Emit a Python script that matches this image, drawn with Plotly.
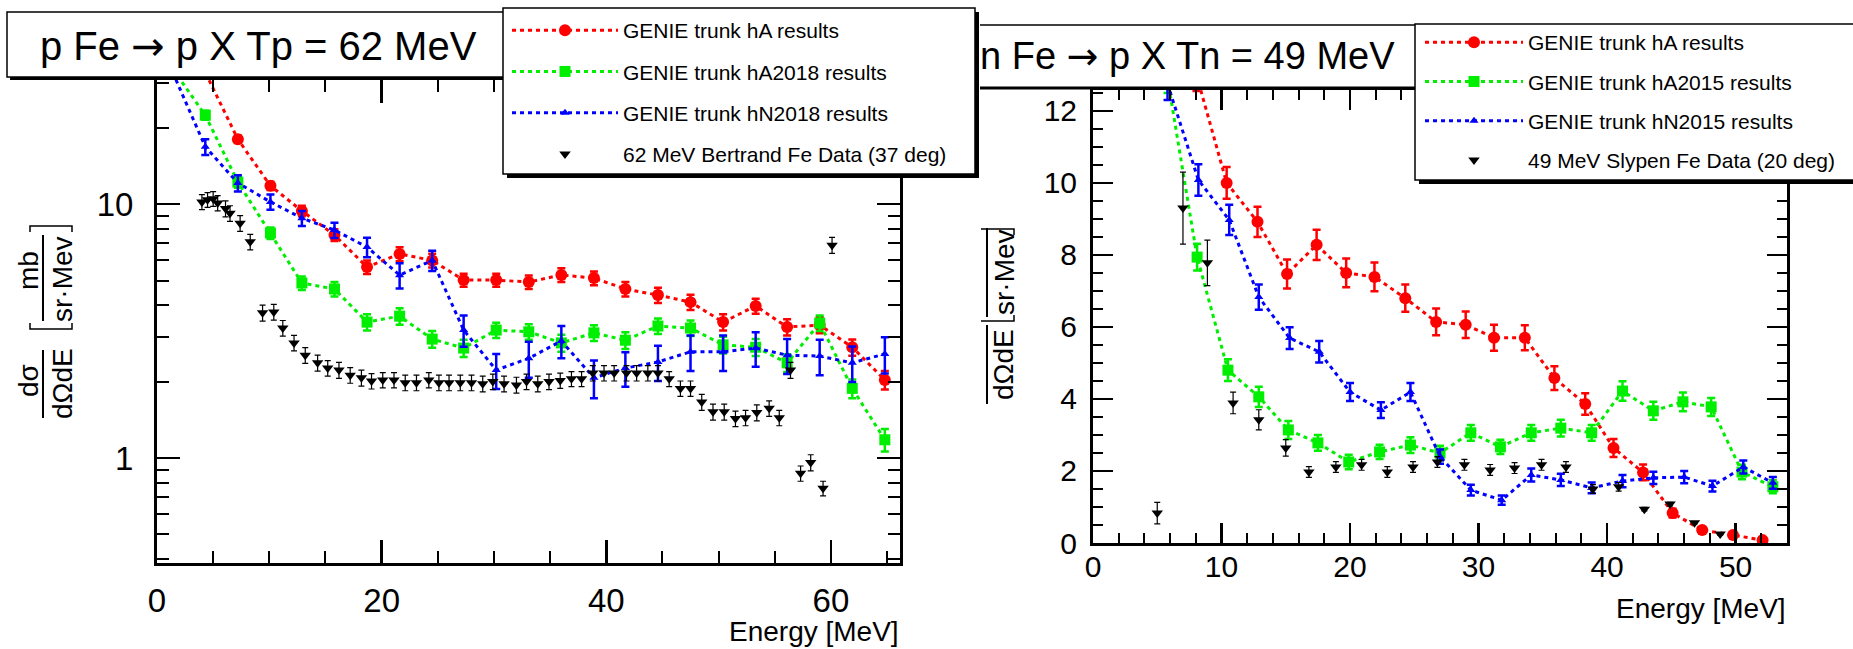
import plotly.graph_objects as go
import math

W, H = 1853, 649
def px(x):
    return x / W
def py(y):
    return 1 - y / H

FONT = "Liberation Sans, Arial, Helvetica, sans-serif"

# ---------------- Left panel: p Fe -> p X, Tp = 62 MeV ----------------
E_model_L = [1.4, 4.3, 7.2, 10.1, 12.9, 15.8, 18.7, 21.6, 24.5, 27.3, 30.2, 33.1,
             36.0, 38.9, 41.7, 44.6, 47.5, 50.4, 53.3, 56.1, 59.0, 61.9, 64.8]
hA_L = [45, 33, 18.0, 11.8, 9.4, 7.55, 5.65, 6.36, 6.0, 5.02, 5.02, 4.93,
        5.26, 5.11, 4.63, 4.38, 4.11, 3.43, 3.97, 3.28, 3.34, 2.73, 2.03]
hA_L_err = [0, 0.8, 0.6, 0.45, 0.45, 0.4, 0.35, 0.4, 0.38, 0.3, 0.3, 0.3,
            0.33, 0.32, 0.3, 0.3, 0.28, 0.25, 0.27, 0.24, 0.24, 0.2, 0.17]
hA2018_L = [34, 22.4, 12.2, 7.69, 4.89, 4.63, 3.43, 3.62, 2.94, 2.71, 3.19, 3.14,
            2.84, 3.11, 2.91, 3.31, 3.25, 2.79, 2.73, 2.37, 3.40, 1.88, 1.18]
hA2018_L_err = [0, 0.9, 0.6, 0.4, 0.3, 0.3, 0.25, 0.27, 0.22, 0.21, 0.22, 0.22,
                0.22, 0.22, 0.22, 0.23, 0.23, 0.21, 0.21, 0.19, 0.24, 0.16, 0.12]
hN2018_L = [33, 16.8, 12.1, 10.2, 8.8, 7.9, 6.77, 5.25, 6.0, 3.19, 2.22, 2.47,
            2.89, 2.07, 2.26, 2.39, 2.62, 2.62, 2.71, 2.54, 2.52, 2.37, 2.57]
hN2018_L_err = [0, 1.2, 0.9, 0.7, 0.6, 0.55, 0.6, 0.6, 0.55, 0.45, 0.35, 0.4,
                0.42, 0.35, 0.35, 0.38, 0.42, 0.42, 0.42, 0.4, 0.4, 0.38, 0.42]

E_data_L = [4.0, 4.5, 5.0, 5.4, 6.1, 6.5, 7.4, 8.3, 9.4, 10.4, 11.2, 12.2, 13.2,
            14.3, 15.2, 16.2, 17.2, 18.2, 19.1, 20.1, 21.1, 22.1, 23.1, 24.2,
            25.1, 26.0, 27.0, 28.0, 29.0, 29.9, 30.9, 32.0, 32.9, 33.9, 34.9,
            35.9, 36.9, 37.8, 38.8, 39.8, 40.7, 41.8, 42.7, 43.7, 44.6, 45.6,
            46.6, 47.5, 48.5, 49.5, 50.5, 51.5, 52.4, 53.4, 54.5, 55.4, 56.4,
            57.3, 58.2, 59.3, 60.1]
data_L = [10.2, 10.4, 10.5, 10.1, 9.6, 9.2, 8.4, 7.1, 3.73, 3.76, 3.25, 2.84, 2.54,
          2.37, 2.26, 2.22, 2.12, 2.07, 2.01, 2.03, 2.03, 1.98, 1.98, 2.03,
          1.98, 1.98, 1.98, 1.98, 1.96, 2.0, 1.96, 1.94, 2.0, 1.96, 2.0,
          2.02, 2.05, 2.05, 2.16, 2.16, 2.16, 2.16, 2.16, 2.16, 2.16, 2.05,
          1.88, 1.88, 1.66, 1.52, 1.52, 1.43, 1.44, 1.51, 1.57, 1.44, 2.22,
          0.87, 0.96, 0.76, 6.89]
data_L_err = [0.7, 0.7, 0.7, 0.7, 0.7, 0.65, 0.6, 0.5, 0.27, 0.27, 0.23, 0.2, 0.18,
              0.17, 0.16, 0.16, 0.15, 0.15, 0.14, 0.14, 0.14, 0.14, 0.14, 0.14,
              0.14, 0.14, 0.14, 0.14, 0.14, 0.14, 0.14, 0.14, 0.14, 0.14, 0.14,
              0.14, 0.14, 0.14, 0.15, 0.15, 0.15, 0.15, 0.15, 0.15, 0.15, 0.14,
              0.13, 0.13, 0.12, 0.11, 0.11, 0.1, 0.1, 0.11, 0.11, 0.1, 0.16,
              0.06, 0.07, 0.05, 0.5]

# ---------------- Right panel: n Fe -> p X, Tn = 49 MeV ----------------
E_hA_R = [8.05, 10.4, 12.8, 15.1, 17.4, 19.7, 21.9, 24.3, 26.7, 29.0, 31.2, 33.6,
          35.9, 38.3, 40.5, 42.8, 45.1, 47.4, 49.8, 52.1]
hA_R = [13.0, 10.0, 8.92, 7.47, 8.28, 7.5, 7.39, 6.8, 6.14, 6.06, 5.7, 5.7,
        4.58, 3.86, 2.64, 1.96, 0.83, 0.36, 0.22, 0.08]
hA_R_err = [0.45, 0.44, 0.42, 0.4, 0.42, 0.4, 0.4, 0.38, 0.37, 0.37, 0.36, 0.35,
            0.33, 0.3, 0.25, 0.22, 0.12, 0.08, 0.06, 0.03]

E_hA2015_R = [5.8, 8.1, 10.5, 12.9, 15.2, 17.5, 19.9, 22.3, 24.7, 27.0, 29.4,
              31.7, 34.1, 36.4, 38.8, 41.2, 43.6, 45.9, 48.1, 50.5, 52.9]
hA2015_R = [12.9, 7.94, 4.8, 4.06, 3.14, 2.78, 2.25, 2.53, 2.72, 2.5, 3.06,
            2.67, 3.06, 3.19, 3.06, 4.22, 3.67, 3.92, 3.78, 1.97, 1.56]
hA2015_R_err = [0.4, 0.37, 0.3, 0.28, 0.25, 0.22, 0.2, 0.2, 0.22, 0.2, 0.22,
                0.2, 0.22, 0.23, 0.22, 0.27, 0.25, 0.26, 0.25, 0.2, 0.18]

E_hN2015_R = [5.8, 8.2, 10.6, 12.9, 15.3, 17.6, 20.0, 22.4, 24.7, 27.0, 29.4,
              31.8, 34.1, 36.4, 38.8, 41.2, 43.6, 46.0, 48.2, 50.6, 52.9]
hN2015_R = [12.75, 10.08, 8.97, 6.83, 5.69, 5.31, 4.19, 3.69, 4.19, 2.4, 1.47,
            1.19, 1.89, 1.75, 1.53, 1.72, 1.81, 1.83, 1.58, 2.11, 1.67]
hN2015_R_err = [0.45, 0.44, 0.42, 0.35, 0.3, 0.3, 0.25, 0.22, 0.25, 0.2, 0.15,
                0.13, 0.18, 0.17, 0.15, 0.17, 0.17, 0.17, 0.15, 0.18, 0.16]

E_data_R = [5.0, 7.0, 8.9, 10.9, 12.9, 15.0, 16.8, 18.9, 20.9, 22.9, 24.9, 26.8,
            28.9, 30.9, 32.8, 34.9, 36.8, 38.9, 40.9, 42.9, 44.9, 46.8, 48.8]
data_R = [0.83, 9.3, 7.78, 3.89, 3.42, 2.64, 1.97, 2.11, 2.17, 1.97, 2.11, 2.25,
          2.17, 2.03, 2.08, 2.17, 2.11, 1.5, 1.56, 0.94, 1.08, 0.56, 0.25]
data_R_err = [0.3, 1.0, 0.63, 0.3, 0.28, 0.23, 0.15, 0.15, 0.15, 0.15, 0.15, 0.15,
              0.15, 0.15, 0.15, 0.15, 0.15, 0.12, 0.12, 0.05, 0.05, 0.03, 0.03]

names_L = ["GENIE trunk hA results", "GENIE trunk hA2018 results",
           "GENIE trunk hN2018 results", "62 MeV Bertrand Fe Data (37 deg)"]
names_R = ["GENIE trunk hA results", "GENIE trunk hA2015 results",
           "GENIE trunk hN2015 results", "49 MeV Slypen Fe Data (20 deg)"]

RED, GREEN, BLUE = "#ff0000", "#00ee00", "#0000ff"

fig = go.Figure()


def model(E, v, err, color, symbol, size, name, xa, ya, leg, grp):
    return go.Scatter(
        x=E, y=v, mode="lines+markers", name=name, xaxis=xa, yaxis=ya,
        legend=leg, legendgroup=grp,
        line=dict(color=color, width=3, dash="4px,4px"),
        marker=dict(color=color, symbol=symbol, size=size, line=dict(width=0)),
        error_y=dict(type="data", array=err, color=color, thickness=2.5, width=4),
    )


def data(E, v, err, name, xa, ya, leg, grp):
    return go.Scatter(
        x=E, y=v, mode="markers", name=name, xaxis=xa, yaxis=ya,
        legend=leg, legendgroup=grp,
        marker=dict(color="black", symbol="triangle-down", size=10, line=dict(width=0)),
        error_y=dict(type="data", array=err, color="black", thickness=1.2, width=3),
    )


fig.add_trace(model(E_model_L, hA_L, hA_L_err, RED, "circle", 12, names_L[0], "x", "y", "legend", "l1"))
fig.add_trace(model(E_model_L, hA2018_L, hA2018_L_err, GREEN, "square", 11, names_L[1], "x", "y", "legend", "l2"))
fig.add_trace(model(E_model_L, hN2018_L, hN2018_L_err, BLUE, "triangle-up", 8, names_L[2], "x", "y", "legend", "l3"))
fig.add_trace(data(E_data_L, data_L, data_L_err, names_L[3], "x", "y", "legend", "l4"))

fig.add_trace(model(E_hA_R, hA_R, hA_R_err, RED, "circle", 12, names_R[0], "x2", "y2", "legend2", "r1"))
fig.add_trace(model(E_hA2015_R, hA2015_R, hA2015_R_err, GREEN, "square", 11, names_R[1], "x2", "y2", "legend2", "r2"))
fig.add_trace(model(E_hN2015_R, hN2015_R, hN2015_R_err, BLUE, "triangle-up", 8, names_R[2], "x2", "y2", "legend2", "r3"))
fig.add_trace(data(E_data_R, data_R, data_R_err, names_R[3], "x2", "y2", "legend2", "r4"))


def axis(domain, rng, dtick, minor_dtick, ticklen, minorlen, fsize, standoff, anchor, log=False):
    d = dict(
        domain=domain, range=rng, dtick=dtick, tick0=0, anchor=anchor,
        ticks="inside", ticklen=ticklen, tickwidth=2.5, tickcolor="black",
        minor=dict(dtick=minor_dtick, ticks="inside", ticklen=minorlen,
                   tickwidth=2, tickcolor="black", showgrid=False),
        showline=True, linewidth=3, linecolor="black", mirror="allticks",
        showgrid=False, zeroline=False, automargin=False,
        tickfont=dict(family=FONT, size=fsize, color="black"),
        ticklabelstandoff=standoff, fixedrange=True,
    )
    if log:
        d["type"] = "log"
        d.pop("tick0")
    return d


fig.update_layout(
    width=W, height=H, autosize=False,
    margin=dict(l=0, r=0, t=0, b=0, autoexpand=False),
    paper_bgcolor="white", plot_bgcolor="white",
    font=dict(family=FONT, color="black"),
    xaxis=axis([px(157), px(900)], [0, 66.15], 20, 5, 23, 12, 33, 6, "y"),
    yaxis=axis([py(563), py(80)], [math.log10(0.386), math.log10(30.8)], 1, "D1",
               23, 12, 33, 14, "x", log=True),
    xaxis2=axis([px(1093), px(1787)], [0, 54], 10, 2, 20, 10, 30, -5, "y2"),
    yaxis2=axis([py(543), py(90)], [0, 12.58], 2, 0.5, 20, 10, 30, 7, "x2"),
    legend=dict(x=px(507), y=py(10), xanchor="left", yanchor="top",
                bgcolor="rgba(0,0,0,0)", borderwidth=0, traceorder="grouped",
                tracegroupgap=11, itemwidth=106,
                font=dict(family=FONT, size=21, color="black")),
    legend2=dict(x=px(1420), y=py(22), xanchor="left", yanchor="top",
                 bgcolor="rgba(0,0,0,0)", borderwidth=0, traceorder="grouped",
                 tracegroupgap=9, itemwidth=98,
                 font=dict(family=FONT, size=21, color="black")),
)

shapes = []


def rect(x0, y0, x1, y1, fill, lw=0, lc="black"):
    shapes.append(dict(type="rect", xref="paper", yref="paper",
                       x0=px(x0), x1=px(x1), y0=py(y0), y1=py(y1),
                       fillcolor=fill, line=dict(width=lw, color=lc), layer="above"))


def line(x0, y0, x1, y1, lw=2):
    shapes.append(dict(type="line", xref="paper", yref="paper",
                       x0=px(x0), x1=px(x1), y0=py(y0), y1=py(y1),
                       line=dict(width=lw, color="black"), layer="above"))


def path(pts, lw=2):
    d = "M" + " L".join(f"{px(a)},{py(b)}" for a, b in pts)
    shapes.append(dict(type="path", xref="paper", yref="paper", path=d,
                       line=dict(width=lw, color="black"), layer="above"))


# left title box with shadow
rect(10, 15, 507, 80, "black")
rect(7, 12, 504, 77, "white", 1.5)
# right title box (left part clipped)
rect(980, 25, 1416, 89, "white")
line(980, 25, 1416, 25, 1.5)
line(980, 88, 1416, 88, 3)
# left legend box with shadow
rect(507, 12, 979, 178, "black")
rect(503, 8, 975, 174, "white", 1.5)
# right legend box with shadow
rect(1419, 28, 1870, 184, "black")
rect(1415, 24, 1866, 180, "white", 1.5)

# y-axis label decorations (left)
line(43, 350, 43, 418, 2)
line(43, 235, 43, 321, 2)
path([(30, 323), (30, 329), (72, 329), (72, 323)], 1.5)
path([(30, 232), (30, 226), (72, 226), (72, 232)], 1.5)
# y-axis label decorations (right, clipped)
line(987, 325, 987, 404, 2)
line(987, 228, 987, 317, 2)
path([(981, 321), (1014, 321), (1014, 315)], 1.5)
path([(981, 229), (1014, 229), (1014, 235)], 1.5)

fig.update_layout(shapes=shapes)

ann = []


def text(t, x, y, size, xanchor="center", yanchor="middle", angle=0, align="center"):
    ann.append(dict(text=t, xref="paper", yref="paper", x=px(x), y=py(y),
                    xanchor=xanchor, yanchor=yanchor, showarrow=False, align=align,
                    textangle=angle, font=dict(family=FONT, size=size, color="black")))


ARROW = "<span style='font-family:DejaVu Sans'>\u2192</span>"
text("p Fe " + ARROW + " p X Tp = 62 MeV", 38, 46, 40, xanchor="left", align="left")
text("n Fe " + ARROW + " p X Tn = 49 MeV", 1397, 56, 38, xanchor="right", align="right")
text("Energy [MeV]", 901, 631, 28, xanchor="right")
text("Energy [MeV]", 1788, 608, 28, xanchor="right")
# left y label
text("d\u03c3", 28, 381, 28, angle=-90)
text("d\u03a9dE", 62, 384, 28, angle=-90)
text("mb", 28, 271, 28, angle=-90)
text("sr\u00b7Mev", 62, 279, 28, angle=-90)
# right y label (numerators clipped away)
text("d\u03a9dE", 1003, 365, 28, angle=-90)
text("sr\u00b7Mev", 1004, 272, 28, angle=-90)

fig.update_layout(annotations=ann)

fig.write_html("out.html", config={"displayModeBar": False, "staticPlot": True})
